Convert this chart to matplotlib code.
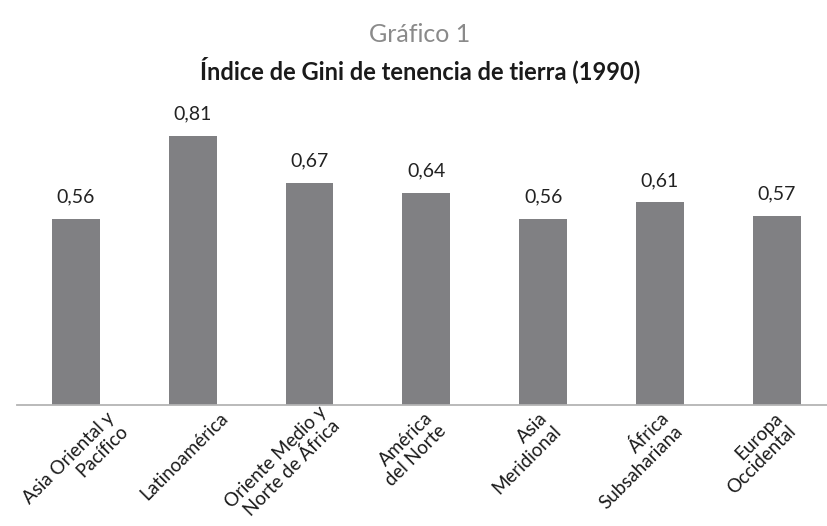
import matplotlib.pyplot as plt
import matplotlib.transforms as mtransforms
import numpy as np

plt.rcParams['font.family'] = ['Lato', 'DejaVu Sans']

# regiones y valores del índice de Gini
regiones = ["Asia Oriental y\nPacífico", "Latinoamérica", "Oriente Medio y\nNorte de África",
            "América\ndel Norte", "Asia\nMeridional", "África\nSubsahariana", "Europa\nOccidental"]
gini = [0.56, 0.81, 0.67, 0.64, 0.56, 0.61, 0.57]
etiquetas = ["0,56", "0,81", "0,67", "0,64", "0,56", "0,61", "0,57"]

# desplazamiento (px) de cada etiqueta del eje
desplaz_x = [30, 27, 8, -2, -4, 0, -3]
desplaz_y = [0, 0, 6, 0, 0, 0, 0]

W, H = 828, 526
fig = plt.figure(figsize=(W / 100, H / 100), dpi=100)
ax = fig.add_axes([17 / W, 1 - 405 / H, (W - 17) / W, 310 / H])

x = np.arange(len(gini))
ax.bar(x, gini, width=0.41, color='#808083')

for xi, v, t in zip(x, gini, etiquetas):
    ax.text(xi, v + 0.04, t, ha='center', va='bottom', fontsize=14, color='#222222')

ax.set_xlim(-0.504, 6.439)
ax.set_ylim(0, 310 / 332)

for s in ['top', 'right', 'left']:
    ax.spines[s].set_visible(False)
ax.spines['bottom'].set_color('#b4b4b4')
ax.spines['bottom'].set_linewidth(1.3)
ax.set_yticks([])
ax.set_xticks(x)
ax.set_xticklabels(regiones, rotation=45, ha='right', va='top', rotation_mode='anchor',
                   multialignment='right', linespacing=1.1, fontsize=13.5, color='#1a1a1a')
ax.tick_params(axis='x', length=0, pad=3)

for lab, dx, dy in zip(ax.get_xticklabels(), desplaz_x, desplaz_y):
    off = mtransforms.ScaledTranslation(dx / 100, dy / 100, fig.dpi_scale_trans)
    lab.set_transform(lab.get_transform() + off)

fig.text(420 / W, 1 - 35 / H, "Gráfico 1", ha='center', va='center', fontsize=18, color='#8a8a8a')
fig.text(420 / W, 1 - 70 / H, "Índice de Gini de tenencia de tierra (1990)", ha='center', va='center',
         fontsize=17, fontweight='bold', color='#1a1a1a')

fig.savefig('out.png', dpi=100)
